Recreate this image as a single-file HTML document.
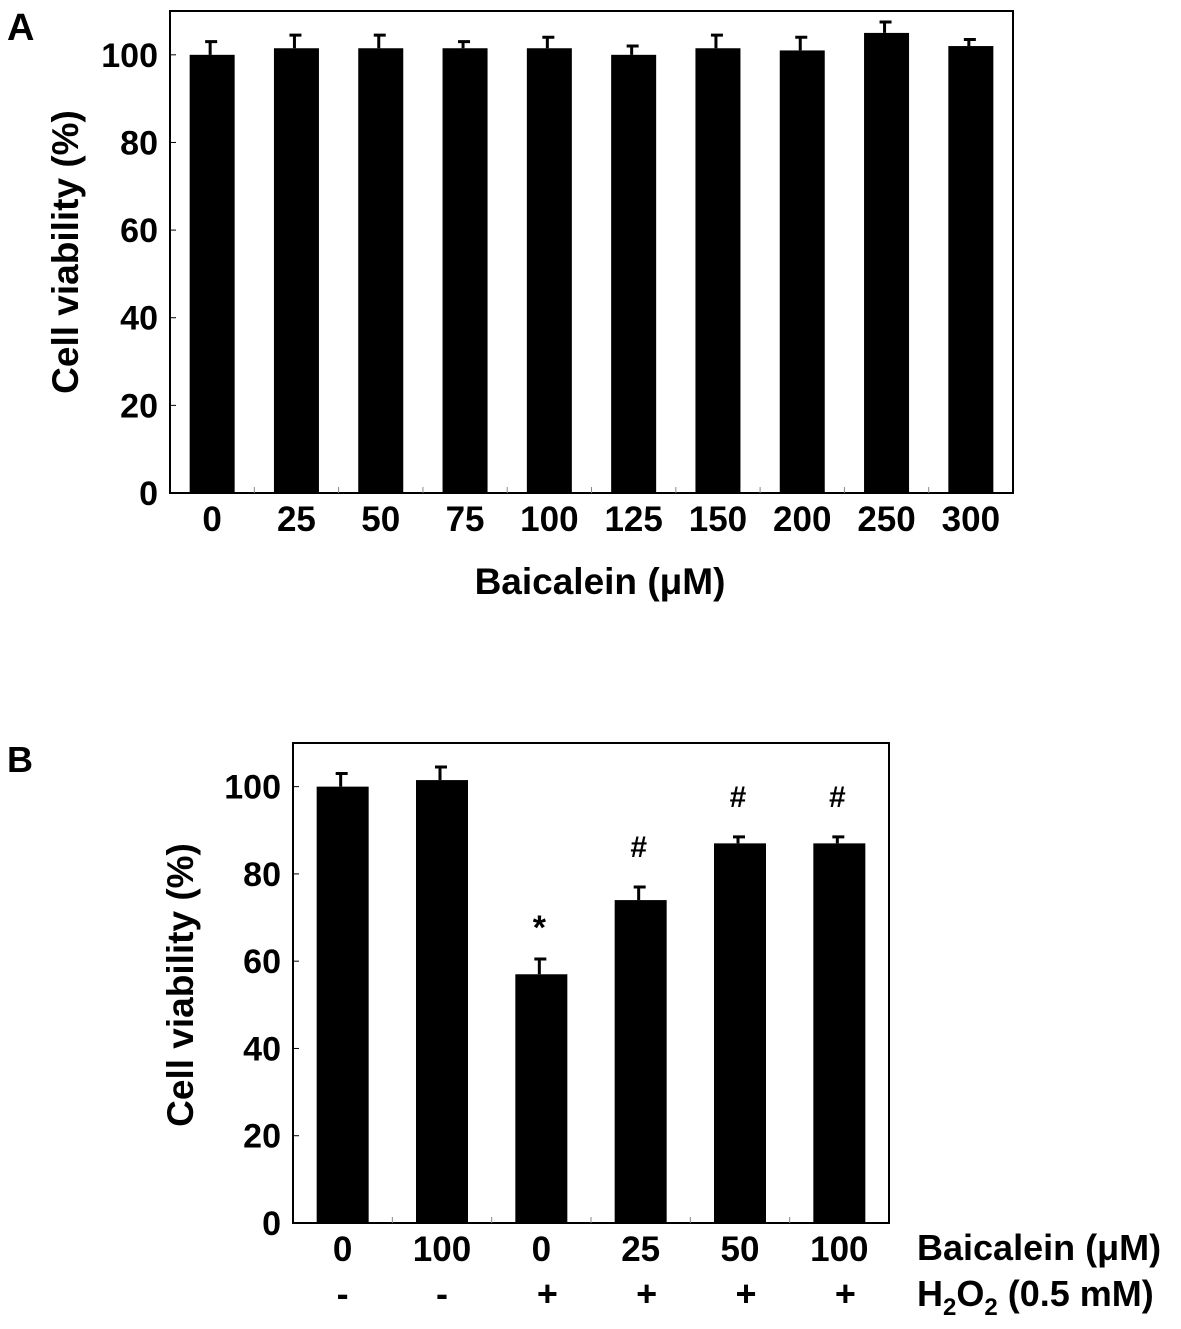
<!DOCTYPE html>
<html><head><meta charset="utf-8"><style>
body{margin:0;background:#fff}
svg text{font-family:"Liberation Sans",Arial,sans-serif;font-weight:bold;fill:#000}
</style></head><body>
<svg id="s" width="1181" height="1324" viewBox="0 0 1181 1324">
<text x="7" y="40" font-size="38">A</text>
<text x="7" y="772" font-size="36">B</text>
<text transform="translate(78,252) rotate(-90)" text-anchor="middle" font-size="37">Cell viability (%)</text>
<text x="600" y="594" text-anchor="middle" font-size="37">Baicalein (μM)</text>
<text transform="translate(193,985) rotate(-90)" text-anchor="middle" font-size="37">Cell viability (%)</text>
<text x="917" y="1260" font-size="36">Baicalein (μM)</text>
<text x="917" y="1306" font-size="36">H<tspan font-size="24" dy="9">2</tspan><tspan dy="-9">O</tspan><tspan font-size="24" dy="9">2</tspan><tspan dy="-9"> (0.5 mM)</tspan></text>
<g id="ga"></g><g id="gb"></g>
</svg>
<script>
const catsA=["0","25","50","75","100","125","150","200","250","300"];
const valsA=[100,101.5,101.5,101.5,101.5,100,101.5,101,105,102];
const errA=[3,3,3,1.5,2.5,2,3,3,2.5,1.5];
const catsB=["0","100","0","25","50","100"];
const h2o2B=["-","-","+","+","+","+"];
const valsB=[100,101.5,57,74,87,87];
const errB=[3,3,3.5,3,1.5,1.5];
const marksB=["","","*","#","#","#"];
const ticks=[0,20,40,60,80,100];
const NS="http://www.w3.org/2000/svg";
function mk(p,t,a){const e=document.createElementNS(NS,t);for(const k in a)e.setAttribute(k,a[k]);p.appendChild(e);return e;}
function chart(g,L,R,T,B,cats,vals,errs,bw,fs,xfs){
  const y=v=>B-(B-T)*v/110;
  const step=(R-L)/cats.length;
  const xc=i=>L+step*(i+0.5);
  const fr=mk(g,'rect',{x:L,y:T,width:R-L,height:B-T,fill:'none',stroke:'#000','stroke-width':2});
  
  
  ticks.forEach(t=>{
    const l=mk(g,'line',{x1:L,x2:L+6,y1:y(t),y2:y(t),stroke:'#000','stroke-width':1});
    
    
    const tx=mk(g,'text',{x:L-12,y:y(t)+12,'text-anchor':'end','font-size':fs});
    tx.textContent=t;
    
    
  });
  for(let i=1;i<cats.length;i++){
    const l=mk(g,'line',{x1:L+step*i,x2:L+step*i,y1:B,y2:B-6,stroke:'#888','stroke-width':1});
    
    
  }
  cats.forEach((c,i)=>{
    const r=mk(g,'rect',{x:xc(i)-bw/2,y:y(vals[i]),width:bw,height:B-y(vals[i]),fill:'#000'});
    
    
    const eb=mk(g,'path',{d:`M${xc(i)-2},${y(vals[i])}V${y(vals[i]+errs[i])}M${xc(i)-7},${y(vals[i]+errs[i])}H${xc(i)+5}`,stroke:'#000','stroke-width':3,fill:'none'});
    
    
    const t=mk(g,'text',{x:xc(i),y:B+38,'text-anchor':'middle','font-size':xfs});
    t.textContent=c;
    
    
  });
  return {y,xc};
}
const a=chart(document.getElementById('ga'),170,1013,11,493,catsA,valsA,errA,45,34,35);
const gb=document.getElementById('gb');
const b=chart(gb,293,889,743,1223,catsB,valsB,errB,52,34,35);
h2o2B.forEach((s,i)=>{
  const t=mk(gb,'text',{x:b.xc(i)+(s=='+'?6:0),y:1306,'text-anchor':'middle','font-size':36});
  t.textContent=s;
  
  
  if(marksB[i]){
    const star=marksB[i]=='*';
    const m=mk(gb,'text',{x:b.xc(i)-2,y:b.y(valsB[i]+errB[i])-(star?20:30),'text-anchor':'middle','font-size':star?34:30});
    m.textContent=marksB[i];
    
    
  }
});
</script>
</body></html>
